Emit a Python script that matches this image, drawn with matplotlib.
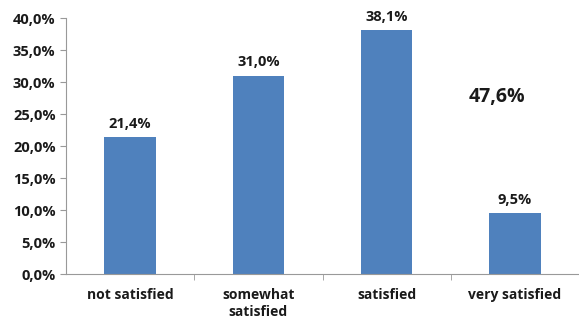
import matplotlib.pyplot as plt
from matplotlib.ticker import FuncFormatter, FixedLocator

categories = ["not satisfied", "somewhat\nsatisfied", "satisfied", "very satisfied"]
values = [21.4, 31.0, 38.1, 9.5]
value_labels = ["21,4%", "31,0%", "38,1%", "9,5%"]
extra_label = "47,6%"

plt.rcParams['font.family'] = ['Open Sans', 'DejaVu Sans']

fig = plt.figure(figsize=(5.79, 3.22), dpi=100)
ax = fig.add_axes([0.114, 0.149, 0.886, 0.795])

x = range(len(categories))
bars = ax.bar(x, values, width=0.4, color='#4F81BD')

for b, lab in zip(bars, value_labels):
    ax.text(b.get_x() + b.get_width() / 2, b.get_height() + 1.0, lab,
            ha='center', va='bottom', fontsize=10.5, fontweight='bold', color='#1a1a1a')

ax.text(2.86, 27.7, extra_label, ha='center', va='center',
        fontsize=14, fontweight='bold', color='#1a1a1a')

ax.set_xlim(-0.5, 3.5)
ax.set_ylim(0, 40)
ax.set_yticks([i * 5 for i in range(9)])
ax.yaxis.set_major_formatter(FuncFormatter(lambda v, p: f"{v:.1f}%".replace('.', ',')))

ax.set_xticks(list(x))
ax.set_xticklabels(categories, fontsize=10, fontweight='bold', color='#1a1a1a',
                   linespacing=1.3)
ax.xaxis.set_minor_locator(FixedLocator([0.5, 1.5, 2.5]))
ax.tick_params(axis='x', which='major', length=0, pad=10)
ax.tick_params(axis='x', which='minor', length=4, color='#999999')
ax.tick_params(axis='y', length=4, color='#999999', labelsize=10.5, labelcolor='#1a1a1a')
for t in ax.get_yticklabels():
    t.set_fontweight('bold')

for s in ['top', 'right']:
    ax.spines[s].set_visible(False)
for s in ['left', 'bottom']:
    ax.spines[s].set_color('#999999')
    ax.spines[s].set_linewidth(0.8)

fig.savefig('out.png', dpi=100)
